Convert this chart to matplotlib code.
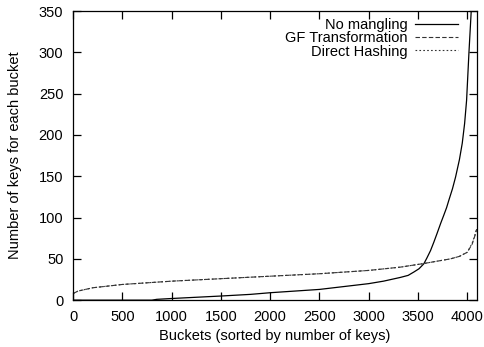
import matplotlib
matplotlib.use("Agg")
import matplotlib.pyplot as plt

plt.rcParams['font.family'] = ['Liberation Sans', 'DejaVu Sans']

# bucket index (sorted) vs keys per bucket
x_nomangle = [0, 800, 850, 1000, 1500, 1800, 2000, 2500, 3000, 3150, 3320, 3400, 3457,
              3510, 3559, 3590, 3627, 3660, 3694, 3730, 3762, 3790, 3813, 3850, 3881,
              3920, 3949, 3973, 3993, 4017, 4040, 4070, 4095]
y_nomangle = [0, 0, 1, 2, 5, 7, 9, 13, 20, 23, 27.5, 30, 34,
              38, 44, 51, 60, 70, 81, 93, 103, 112, 121, 135, 149,
              170, 190, 214, 242, 300, 350, 430, 520]

x_gf = [0, 50, 200, 500, 1000, 1500, 2000, 2500, 3000, 3322, 3540, 3830, 3920, 4000, 4050, 4083, 4095]
y_gf = [8, 11, 15, 19, 23, 26, 29, 32, 36, 40, 44, 50, 53, 58, 68, 80, 86]

x_direct = [0, 50, 200, 500, 1000, 1500, 2000, 2500, 3000, 3322, 3540, 3830, 3920, 4000, 4050, 4083, 4095]
y_direct = [8, 11, 15, 19, 23, 26, 29, 32, 36, 40, 44, 50, 53, 58, 69, 81, 87]

fig = plt.figure(figsize=(4.84, 3.47), dpi=100)
ax = fig.add_axes([0.151, 0.135, 0.834, 0.833])

ax.plot(x_nomangle, y_nomangle, color='black', lw=0.9, label='No mangling')
ax.plot(x_gf, y_gf, color='#333333', lw=0.8, ls=(0, (4, 2)), label='GF Transformation')
ax.plot(x_direct, y_direct, color='#333333', lw=0.8, ls=(0, (1.5, 2)), label='Direct Hashing')

ax.set_xlim(0, 4096)
ax.set_ylim(0, 350)
ax.set_xticks(range(0, 4001, 500))
ax.set_yticks(range(0, 351, 50))
ax.tick_params(direction='in', length=6, width=0.9, top=True, right=True, labelsize=10.5, pad=7)
for s in ax.spines.values():
    s.set_linewidth(0.9)

ax.set_xlabel('Buckets (sorted by number of keys)', fontsize=10.5, labelpad=4)
ax.set_ylabel('Number of keys for each bucket', fontsize=10.5, labelpad=12)

leg = ax.legend(loc='upper right', bbox_to_anchor=(0.953, 0.975), frameon=False,
                markerfirst=False, fontsize=10.5,
                handlelength=2.95, handletextpad=0.5, labelspacing=-0.06,
                borderaxespad=0, borderpad=0)
for t in leg.get_texts():
    t.set_ha('right')

fig.savefig('out.png', dpi=100)
